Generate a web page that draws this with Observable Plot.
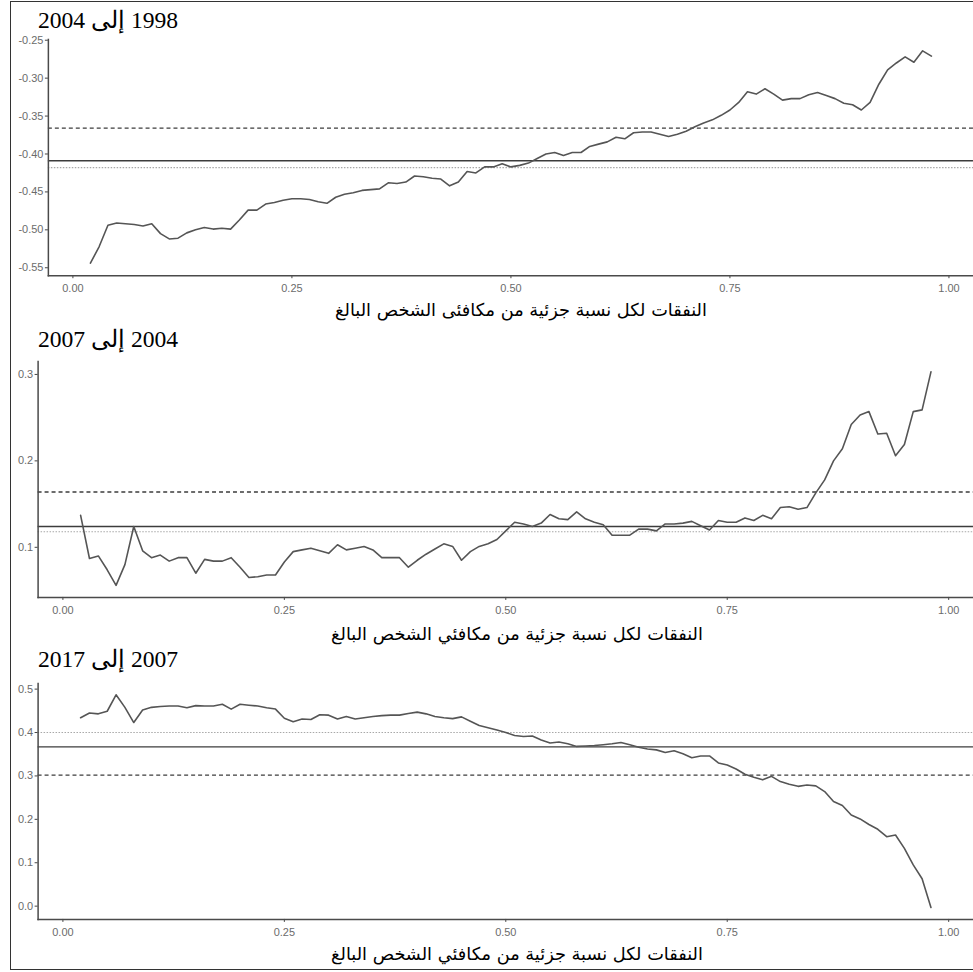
<!DOCTYPE html>
<html>
<head>
<meta charset="utf-8">
<script src="https://cdn.jsdelivr.net/npm/d3@7"></script>
<script src="https://cdn.jsdelivr.net/npm/@observablehq/plot@0.6"></script>
<style>
  html, body { margin: 0; padding: 0; background: #fff; }
  #c { position: relative; width: 973px; height: 972px; overflow: hidden; background: #fff; }
  #c > svg.panel { position: absolute; left: 0; }
  #frame { position: absolute; left: 10px; top: 1px; width: 990px; height: 967px; border: 1.5px solid #333; border-right: none; }
  #overlay { position: absolute; left: 0; top: 0; }
</style>
</head>
<body>
<div id="c"><div id="frame"></div></div>
<script>
// Shares of the adult-equivalent distribution (x axis)
const shares = [
  0.02,0.03,0.04,0.05,0.06,0.07,0.08,0.09,0.10,0.11,
  0.12,0.13,0.14,0.15,0.16,0.17,0.18,0.19,0.20,0.21,
  0.22,0.23,0.24,0.25,0.26,0.27,0.28,0.29,0.30,0.31,
  0.32,0.33,0.34,0.35,0.36,0.37,0.38,0.39,0.40,0.41,
  0.42,0.43,0.44,0.45,0.46,0.47,0.48,0.49,0.50,0.51,
  0.52,0.53,0.54,0.55,0.56,0.57,0.58,0.59,0.60,0.61,
  0.62,0.63,0.64,0.65,0.66,0.67,0.68,0.69,0.70,0.71,
  0.72,0.73,0.74,0.75,0.76,0.77,0.78,0.79,0.80,0.81,
  0.82,0.83,0.84,0.85,0.86,0.87,0.88,0.89,0.90,0.91,
  0.92,0.93,0.94,0.95,0.96,0.97,0.98
];

// Panel 1: 1998 to 2004
const growth1998_2004 = [
  -0.544,-0.522,-0.494,-0.491,-0.492,-0.493,-0.495,-0.492,-0.505,-0.512,
  -0.511,-0.504,-0.500,-0.497,-0.499,-0.498,-0.499,-0.487,-0.474,-0.474,
  -0.466,-0.464,-0.461,-0.459,-0.459,-0.460,-0.463,-0.465,-0.457,-0.453,
  -0.451,-0.448,-0.447,-0.446,-0.438,-0.439,-0.437,-0.429,-0.430,-0.432,
  -0.433,-0.442,-0.437,-0.423,-0.425,-0.417,-0.417,-0.413,-0.417,-0.415,
  -0.412,-0.406,-0.400,-0.398,-0.402,-0.398,-0.398,-0.390,-0.387,-0.384,
  -0.378,-0.380,-0.372,-0.371,-0.371,-0.374,-0.377,-0.374,-0.370,-0.364,
  -0.359,-0.355,-0.349,-0.342,-0.332,-0.318,-0.321,-0.314,-0.321,-0.329,
  -0.327,-0.327,-0.322,-0.319,-0.323,-0.327,-0.333,-0.335,-0.342,-0.332,
  -0.308,-0.289,-0.280,-0.272,-0.279,-0.264,-0.271
];
// Panel 2: 2004 to 2007
const growth2004_2007 = [
  0.137,0.087,0.090,0.074,0.056,0.080,0.124,0.096,0.088,0.091,
  0.084,0.088,0.088,0.070,0.086,0.084,0.084,0.088,0.077,0.065,
  0.066,0.068,0.068,0.083,0.095,0.097,0.099,0.096,0.093,0.103,
  0.097,0.099,0.101,0.097,0.088,0.088,0.088,0.077,0.085,0.092,
  0.098,0.104,0.101,0.085,0.095,0.101,0.104,0.109,0.119,0.129,
  0.127,0.124,0.128,0.138,0.133,0.132,0.141,0.133,0.129,0.126,
  0.114,0.114,0.114,0.121,0.121,0.119,0.127,0.127,0.128,0.130,
  0.125,0.120,0.131,0.129,0.129,0.134,0.131,0.137,0.133,0.146,
  0.147,0.144,0.146,0.163,0.178,0.200,0.214,0.242,0.253,0.257,
  0.231,0.232,0.206,0.219,0.257,0.259,0.303
];
// Panel 3: 2007 to 2017
const growth2007_2017 = [
  0.434,0.445,0.443,0.449,0.487,0.458,0.423,0.452,0.458,0.460,
  0.461,0.461,0.457,0.462,0.461,0.461,0.465,0.454,0.465,0.463,
  0.461,0.457,0.454,0.433,0.425,0.431,0.430,0.441,0.440,0.431,
  0.437,0.431,0.434,0.437,0.439,0.440,0.440,0.444,0.447,0.443,
  0.437,0.434,0.432,0.436,0.426,0.416,0.411,0.406,0.400,0.393,
  0.391,0.392,0.383,0.376,0.378,0.374,0.368,0.369,0.370,0.372,
  0.374,0.377,0.372,0.366,0.362,0.360,0.354,0.358,0.351,0.342,
  0.346,0.346,0.330,0.325,0.316,0.304,0.297,0.291,0.299,0.287,
  0.281,0.276,0.279,0.277,0.264,0.241,0.232,0.210,0.201,0.188,
  0.177,0.160,0.164,0.133,0.095,0.063,-0.003
];

// Reference lines: [solid, dashed, dotted]
const refLines1 = [-0.409, -0.366, -0.418];
const refLines2 = [0.124, 0.164, 0.118];
const refLines3 = [0.367, 0.302, 0.400];

const xTicks = [0, 0.25, 0.5, 0.75, 1];
const yTicks1 = [-0.55, -0.50, -0.45, -0.40, -0.35, -0.30, -0.25];
const yTicks2 = [0.1, 0.2, 0.3];
const yTicks3 = [0.0, 0.1, 0.2, 0.3, 0.4, 0.5];

const titles = ["1998 إلى 2004", "2004 إلى 2007", "2007 إلى 2017"];
const xLabels = [
  "النفقات لكل نسبة جزئية من مكافئى الشخص البالغ",
  "النفقات لكل نسبة جزئية من مكافئي الشخص البالغ",
  "النفقات لكل نسبة جزئية من مكافئي الشخص البالغ"
];

const panels = [
  {values: growth1998_2004, refs: refLines1, yTicks: yTicks1, fmt: 2, domain: [-0.5605, -0.249], top: 39, bottom: 276, left: 48,
   title: titles[0], titleX: 108, titleY: 27.5, label: xLabels[0], labelX: 521, labelY: 316},
  {values: growth2004_2007, refs: refLines2, yTicks: yTicks2, fmt: 1, domain: [0.042, 0.315], top: 361, bottom: 597.7, left: 37.7,
   title: titles[1], titleX: 108, titleY: 346.5, label: xLabels[1], labelX: 517, labelY: 640},
  {values: growth2007_2017, refs: refLines3, yTicks: yTicks3, fmt: 1, domain: [-0.0306, 0.513], top: 683.3, bottom: 920, left: 37.7,
   title: titles[2], titleX: 108, titleY: 666.5, label: xLabels[2], labelX: 517, labelY: 960}
];

const container = document.getElementById("c");

for (const p of panels) {
  const data = shares.map((s, i) => ({share: s, value: p.values[i]}));
  const mt = 10, mb = 28;
  const svg = Plot.plot({
    width: 976,
    height: (p.bottom - p.top) + mt + mb,
    marginTop: mt, marginBottom: mb, marginLeft: p.left, marginRight: 0,
    x: {domain: [-0.028, 1.028]},
    y: {domain: p.domain},
    style: {fontFamily: "'Liberation Sans', Arial, sans-serif", fontSize: "11px", background: "transparent", overflow: "visible"},
    marks: [
      Plot.axisX({ticks: xTicks, tickFormat: d => d.toFixed(2), tickSize: 3, tickPadding: 6, label: null, fill: "#6b6b6b", stroke: "#444"}),
      Plot.axisY({ticks: p.yTicks, tickFormat: d => d.toFixed(p.fmt), tickSize: 3, tickPadding: 2, label: null, fill: "#6b6b6b", stroke: "#444"}),
      Plot.ruleY([p.refs[2]], {stroke: "#a8a8a8", strokeWidth: 1.1, strokeDasharray: "1.5,1.5"}),
      Plot.ruleY([p.refs[0]], {stroke: "#3c3c3c", strokeWidth: 1.4}),
      Plot.ruleY([p.refs[1]], {stroke: "#3c3c3c", strokeWidth: 1.3, strokeDasharray: "4,3"}),
      Plot.lineY(data, {x: "share", y: "value", stroke: "#555", strokeWidth: 1.6, strokeLinejoin: "round"}),
      Plot.frame({anchor: "left", stroke: "#4a4a4a", strokeWidth: 1.5}),
      Plot.frame({anchor: "bottom", stroke: "#4a4a4a", strokeWidth: 1.5})
    ]
  });
  svg.classList.add("panel");
  svg.style.top = (p.top - mt) + "px";
  container.appendChild(svg);
}

// Overlay with titles and axis labels (real text)
const overlay = d3.select(container).append("svg")
  .attr("id", "overlay").attr("width", 973).attr("height", 972);

for (const p of panels) {
  const t = overlay.append("text")
    .attr("x", p.titleX).attr("y", p.titleY)
    .attr("direction", "rtl").attr("unicode-bidi", "embed")
    .attr("text-anchor", "middle")
    .attr("font-family", "'Liberation Serif', 'Times New Roman', serif")
    .attr("font-size", 21).attr("fill", "#000")
    .text(p.title);
  const tl = t.node().getComputedTextLength();
  if (tl > 0) t.attr("font-size", 21 * 140 / tl);

  const l = overlay.append("text")
    .attr("x", p.labelX).attr("y", p.labelY)
    .attr("direction", "rtl").attr("unicode-bidi", "embed")
    .attr("text-anchor", "middle")
    .attr("font-family", "'DejaVu Sans', Arial, sans-serif")
    .attr("font-size", 16).attr("fill", "#000")
    .text(p.label);
  const ll = l.node().getComputedTextLength();
  if (ll > 0) l.attr("font-size", 16 * 372 / ll);
}
</script>
</body>
</html>
